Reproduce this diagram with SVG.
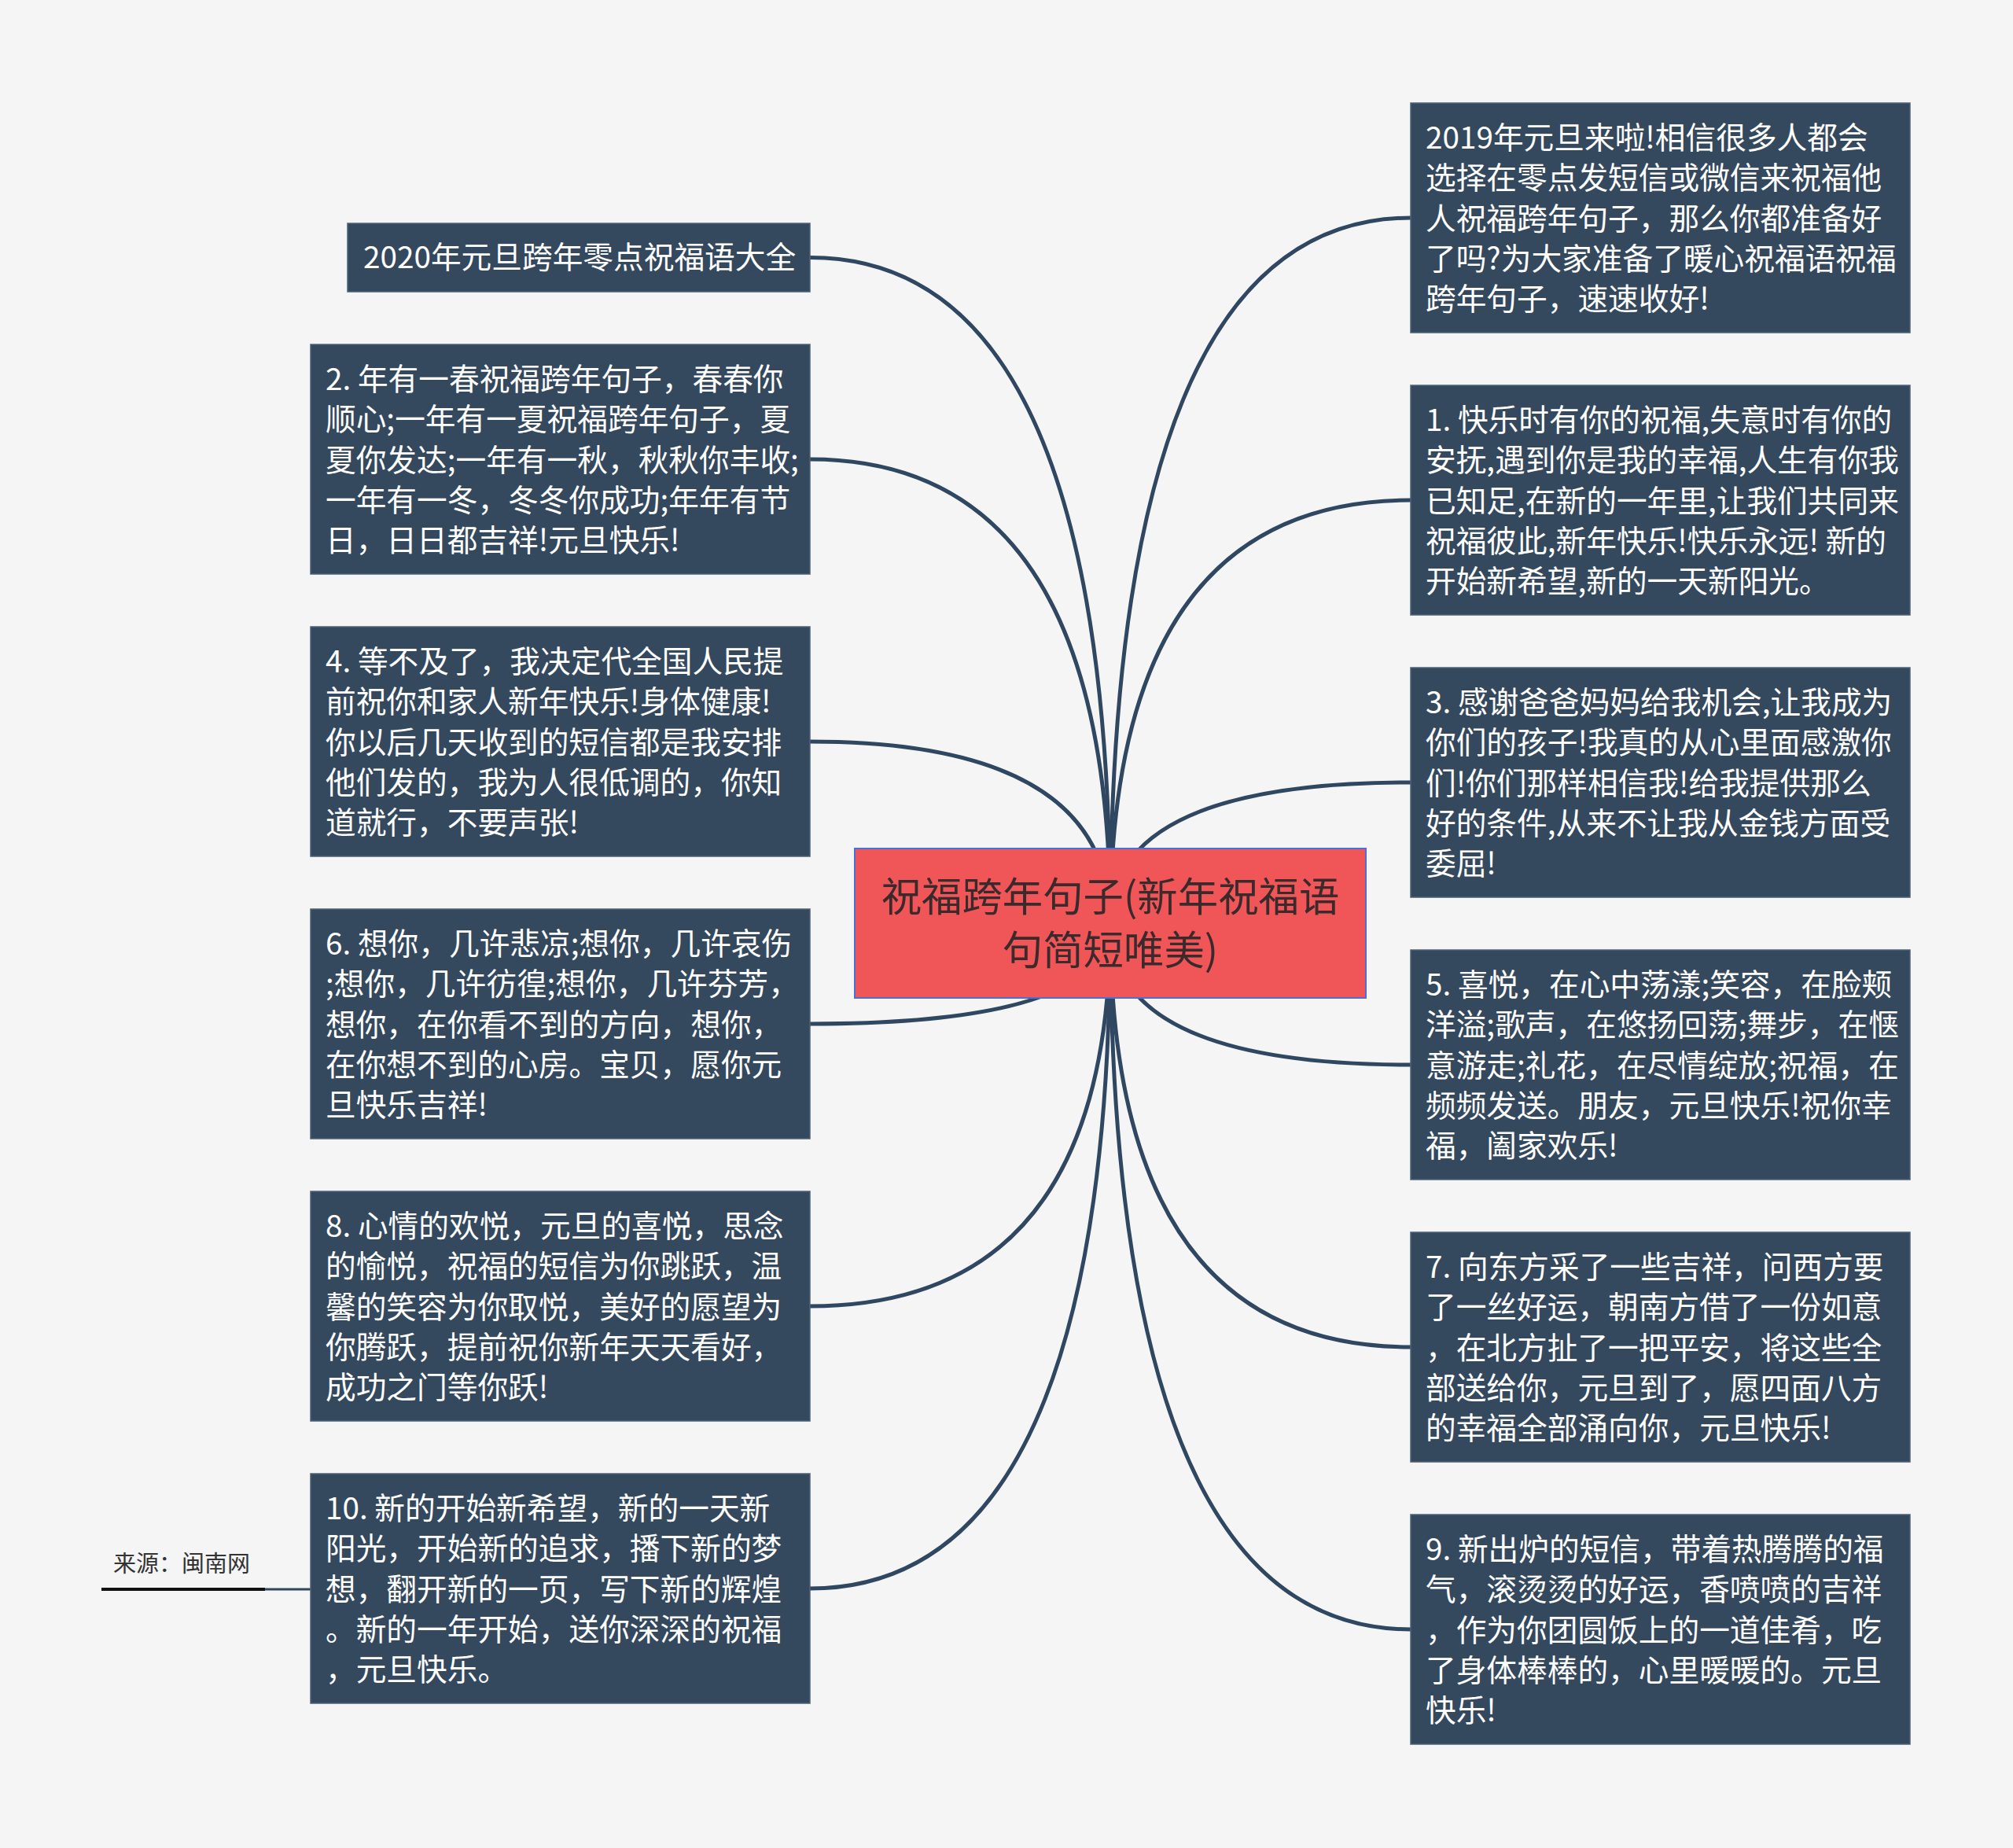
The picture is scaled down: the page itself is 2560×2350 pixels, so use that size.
<svg xmlns="http://www.w3.org/2000/svg" width="2560" height="2350" viewBox="0 0 2560 2350">
<style>
.bg{fill:#f5f5f5}
.box{fill:#34495e;stroke:#4d6178;stroke-width:1.5}
.t{font-family:"Noto Sans CJK SC","Noto Sans",sans-serif;font-size:38.7px;fill:#ffffff}
.main{fill:#f05557;stroke:#4a6fd6;stroke-width:2}
.mt{font-family:"Noto Sans CJK SC","Noto Sans",sans-serif;font-size:51.4px;fill:#3a2a2c;text-anchor:middle}
.c{fill:none;stroke:#2f4761;stroke-width:5}
.src{font-family:"Noto Sans CJK SC","Noto Sans",sans-serif;font-size:29px;fill:#333333}
</style>
<rect class="bg" x="0" y="0" width="2560" height="2350"/>
<g id="connectors">
<path class="c" d="M1412,1174 Q1412,327.5 1030,327.5"/>
<path class="c" d="M1412,1174 Q1412,584 1030,584"/>
<path class="c" d="M1412,1174 Q1412,943 1030,943"/>
<path class="c" d="M1412,1174 Q1412,1302 1030,1302"/>
<path class="c" d="M1412,1174 Q1412,1661 1030,1661"/>
<path class="c" d="M1412,1174 Q1412,2020 1030,2020"/>
<path class="c" d="M1412,1174 Q1412,277 1794,277"/>
<path class="c" d="M1412,1174 Q1412,636 1794,636"/>
<path class="c" d="M1412,1174 Q1412,995 1794,995"/>
<path class="c" d="M1412,1174 Q1412,1354 1794,1354"/>
<path class="c" d="M1412,1174 Q1412,1713 1794,1713"/>
<path class="c" d="M1412,1174 Q1412,2072 1794,2072"/>
<line x1="335" y1="2021" x2="395" y2="2021" stroke="#2f4761" stroke-width="3"/>
</g>
<g id="center">
<rect class="main" x="1087" y="1079" width="650" height="190"/>
<text class="mt"><tspan x="1412" y="1159">祝福跨年句子(新年祝福语</tspan><tspan x="1412" y="1227">句简短唯美)</tspan></text>
</g>
<g id="nodeA">
<rect class="box" x="442" y="284" width="588" height="87"/>
<text class="t" x="462" y="341">2020年元旦跨年零点祝福语大全</text>
</g>
<g id="node2">
<rect class="box" x="395" y="438" width="635" height="292"/>
<text class="t"><tspan x="414" y="496">2. 年有一春祝福跨年句子，春春你</tspan><tspan x="414" y="547">顺心;一年有一夏祝福跨年句子，夏</tspan><tspan x="414" y="599">夏你发达;一年有一秋，秋秋你丰收;</tspan><tspan x="414" y="650">一年有一冬，冬冬你成功;年年有节</tspan><tspan x="414" y="701">日，日日都吉祥!元旦快乐!</tspan></text>
</g>
<g id="node4">
<rect class="box" x="395" y="797" width="635" height="292"/>
<text class="t"><tspan x="414" y="855">4. 等不及了，我决定代全国人民提</tspan><tspan x="414" y="906">前祝你和家人新年快乐!身体健康!</tspan><tspan x="414" y="958">你以后几天收到的短信都是我安排</tspan><tspan x="414" y="1009">他们发的，我为人很低调的，你知</tspan><tspan x="414" y="1060">道就行，不要声张!</tspan></text>
</g>
<g id="node6">
<rect class="box" x="395" y="1156" width="635" height="292"/>
<text class="t"><tspan x="414" y="1214">6. 想你，几许悲凉;想你，几许哀伤</tspan><tspan x="414" y="1265">;想你，几许彷徨;想你，几许芬芳，</tspan><tspan x="414" y="1317">想你，在你看不到的方向，想你，</tspan><tspan x="414" y="1368">在你想不到的心房。宝贝，愿你元</tspan><tspan x="414" y="1419">旦快乐吉祥!</tspan></text>
</g>
<g id="node8">
<rect class="box" x="395" y="1515" width="635" height="292"/>
<text class="t"><tspan x="414" y="1573">8. 心情的欢悦，元旦的喜悦，思念</tspan><tspan x="414" y="1624">的愉悦，祝福的短信为你跳跃，温</tspan><tspan x="414" y="1676">馨的笑容为你取悦，美好的愿望为</tspan><tspan x="414" y="1727">你腾跃，提前祝你新年天天看好，</tspan><tspan x="414" y="1778">成功之门等你跃!</tspan></text>
</g>
<g id="node10">
<rect class="box" x="395" y="1874" width="635" height="292"/>
<text class="t"><tspan x="414" y="1932">10. 新的开始新希望，新的一天新</tspan><tspan x="414" y="1983">阳光，开始新的追求，播下新的梦</tspan><tspan x="414" y="2035">想，翻开新的一页，写下新的辉煌</tspan><tspan x="414" y="2086">。新的一年开始，送你深深的祝福</tspan><tspan x="414" y="2137">，元旦快乐。</tspan></text>
</g>
<g id="source">
<text class="src" x="144" y="1999">来源：闽南网</text>
<line x1="129" y1="2021" x2="337" y2="2021" stroke="#111111" stroke-width="4"/>
</g>
<g id="node2019">
<rect class="box" x="1794" y="131" width="635" height="292"/>
<text class="t"><tspan x="1813" y="189">2019年元旦来啦!相信很多人都会</tspan><tspan x="1813" y="240">选择在零点发短信或微信来祝福他</tspan><tspan x="1813" y="292">人祝福跨年句子，那么你都准备好</tspan><tspan x="1813" y="343">了吗?为大家准备了暖心祝福语祝福</tspan><tspan x="1813" y="394">跨年句子，速速收好!</tspan></text>
</g>
<g id="node1">
<rect class="box" x="1794" y="490" width="635" height="292"/>
<text class="t"><tspan x="1813" y="548">1. 快乐时有你的祝福,失意时有你的</tspan><tspan x="1813" y="599">安抚,遇到你是我的幸福,人生有你我</tspan><tspan x="1813" y="651">已知足,在新的一年里,让我们共同来</tspan><tspan x="1813" y="702">祝福彼此,新年快乐!快乐永远! 新的</tspan><tspan x="1813" y="753">开始新希望,新的一天新阳光。</tspan></text>
</g>
<g id="node3">
<rect class="box" x="1794" y="849" width="635" height="292"/>
<text class="t"><tspan x="1813" y="907">3. 感谢爸爸妈妈给我机会,让我成为</tspan><tspan x="1813" y="958">你们的孩子!我真的从心里面感激你</tspan><tspan x="1813" y="1010">们!你们那样相信我!给我提供那么</tspan><tspan x="1813" y="1061">好的条件,从来不让我从金钱方面受</tspan><tspan x="1813" y="1112">委屈!</tspan></text>
</g>
<g id="node5">
<rect class="box" x="1794" y="1208" width="635" height="292"/>
<text class="t"><tspan x="1813" y="1266">5. 喜悦，在心中荡漾;笑容，在脸颊</tspan><tspan x="1813" y="1317">洋溢;歌声，在悠扬回荡;舞步，在惬</tspan><tspan x="1813" y="1369">意游走;礼花，在尽情绽放;祝福，在</tspan><tspan x="1813" y="1420">频频发送。朋友，元旦快乐!祝你幸</tspan><tspan x="1813" y="1471">福，阖家欢乐!</tspan></text>
</g>
<g id="node7">
<rect class="box" x="1794" y="1567" width="635" height="292"/>
<text class="t"><tspan x="1813" y="1625">7. 向东方采了一些吉祥，问西方要</tspan><tspan x="1813" y="1676">了一丝好运，朝南方借了一份如意</tspan><tspan x="1813" y="1728">，在北方扯了一把平安，将这些全</tspan><tspan x="1813" y="1779">部送给你，元旦到了，愿四面八方</tspan><tspan x="1813" y="1830">的幸福全部涌向你，元旦快乐!</tspan></text>
</g>
<g id="node9">
<rect class="box" x="1794" y="1926" width="635" height="292"/>
<text class="t"><tspan x="1813" y="1984">9. 新出炉的短信，带着热腾腾的福</tspan><tspan x="1813" y="2035">气，滚烫烫的好运，香喷喷的吉祥</tspan><tspan x="1813" y="2087">，作为你团圆饭上的一道佳肴，吃</tspan><tspan x="1813" y="2138">了身体棒棒的，心里暖暖的。元旦</tspan><tspan x="1813" y="2189">快乐!</tspan></text>
</g>
</svg>
